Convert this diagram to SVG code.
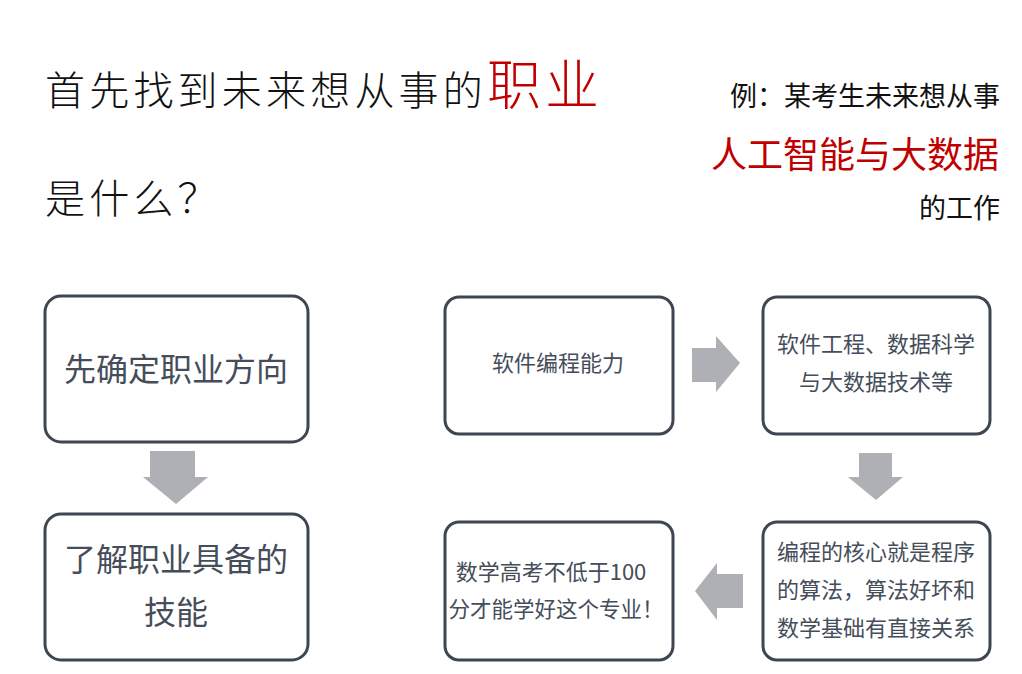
<svg xmlns="http://www.w3.org/2000/svg" width="1022" height="674" viewBox="0 0 1022 674">
<style>
.box{fill:#fff;stroke:#3d4651;stroke-width:3}
.arr{fill:#aeb0b6}
.t{font-family:"Noto Sans CJK SC","Liberation Sans",sans-serif;fill:#454d5a}
.h{font-family:"Noto Sans CJK SC","Liberation Sans",sans-serif;fill:#111}
.r{fill:#c00000}
</style>
<rect width="1022" height="674" fill="#fff"/>
<g id="title">
<text class="h" x="45" y="105" font-size="40" font-weight="300" letter-spacing="4.2">首先找到未来想从事的<tspan class="r" font-size="54" letter-spacing="4">职业</tspan></text>
<text class="h" x="45" y="213" font-size="40" font-weight="300" letter-spacing="4.2">是什么？</text>
</g>
<g id="example">
<text class="h" x="1000" y="106" font-size="27" text-anchor="end">例：某考生未来想从事</text>
<text class="h" x="999" y="168" font-size="36" text-anchor="end" style="fill:#c00000">人工智能与大数据</text>
<text class="h" x="1000" y="218" font-size="27" text-anchor="end">的工作</text>
</g>
<g id="connectors">
<polygon class="arr" points="150,451 195,451 195,477 208,477 176,504 143,477 150,477"/>
<polygon class="arr" points="692,348 716,348 716,336 740,363 716,392 716,382 692,382"/>
<polygon class="arr" points="859,453 892,453 892,477 903,477 876,500 848,477 859,477"/>
<polygon class="arr" points="743,574 717,574 717,563 695,591 717,620 717,608 743,608"/>
</g>
<g id="n1">
<rect class="box" x="45" y="296" width="263" height="146" rx="16"/>
<text class="t" x="176" y="381" font-size="32" text-anchor="middle">先确定职业方向</text>
</g>
<g id="n2">
<rect class="box" x="45" y="514" width="263" height="146" rx="16"/>
<text class="t" x="176" y="571" font-size="32" text-anchor="middle">了解职业具备的</text>
<text class="t" x="176" y="624" font-size="32" text-anchor="middle">技能</text>
</g>
<g id="n3">
<rect class="box" x="445" y="297" width="228" height="137" rx="14"/>
<text class="t" x="558" y="371" font-size="22" text-anchor="middle">软件编程能力</text>
</g>
<g id="n4">
<rect class="box" x="763" y="297" width="227" height="137" rx="14"/>
<text class="t" x="876" y="352" font-size="22" text-anchor="middle">软件工程、数据科学</text>
<text class="t" x="876" y="390" font-size="22" text-anchor="middle">与大数据技术等</text>
</g>
<g id="n5">
<rect class="box" x="763" y="522" width="227" height="138" rx="14"/>
<text class="t" x="876" y="560" font-size="22" text-anchor="middle">编程的核心就是程序</text>
<text class="t" x="876" y="598" font-size="22" text-anchor="middle">的算法，算法好坏和</text>
<text class="t" x="876" y="636" font-size="22" text-anchor="middle">数学基础有直接关系</text>
</g>
<g id="n6">
<rect class="box" x="445" y="522" width="228" height="138" rx="14"/>
<text class="t" x="551" y="580" font-size="22" text-anchor="middle">数学高考不低于100</text>
<text class="t" x="556" y="617" font-size="21.5" text-anchor="middle">分才能学好这个专业！</text>
</g>
</svg>
